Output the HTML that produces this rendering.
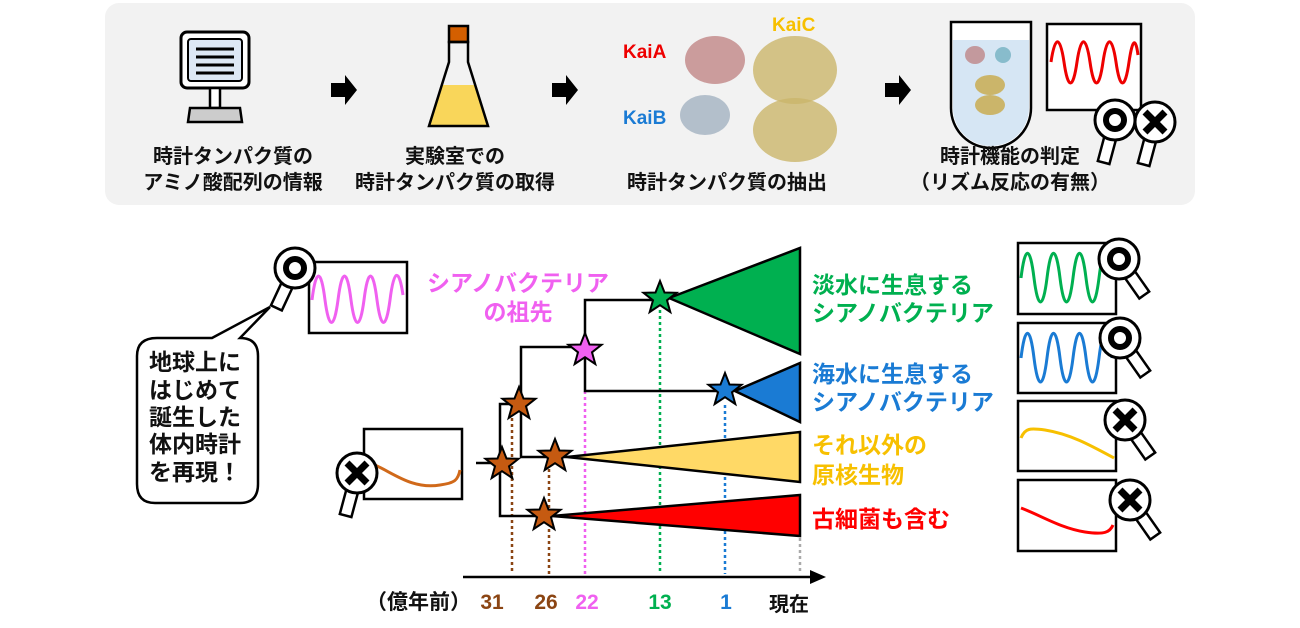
<!DOCTYPE html>
<html><head><meta charset="utf-8"><style>
body{margin:0;background:#fff;}
svg{display:block;}
text{font-family:"Liberation Sans","Noto Sans CJK JP",sans-serif;font-weight:bold;}
</style></head><body>
<svg width="1300" height="628" viewBox="0 0 1300 628" xmlns="http://www.w3.org/2000/svg">
<defs>
<g id="magO">
 <rect x="-6" y="14" width="12" height="30" fill="#fff" stroke="#000" stroke-width="2.5" transform="rotate(-35)"/>
 <circle r="20" fill="#fff" stroke="#000" stroke-width="3"/>
 <circle r="9" fill="none" stroke="#000" stroke-width="6"/>
</g>
<g id="magOL">
 <rect x="-6" y="14" width="12" height="30" fill="#fff" stroke="#000" stroke-width="2.5" transform="rotate(25)"/>
 <circle r="20" fill="#fff" stroke="#000" stroke-width="3"/>
 <circle r="9" fill="none" stroke="#000" stroke-width="6"/>
</g>
<g id="magX">
 <rect x="-6" y="14" width="12" height="30" fill="#fff" stroke="#000" stroke-width="2.5" transform="rotate(-35)"/>
 <circle r="20" fill="#fff" stroke="#000" stroke-width="3"/>
 <path d="M-10,-10 L10,10 M10,-10 L-10,10" stroke="#000" stroke-width="7"/>
</g>
<g id="magXs">
 <rect x="-6" y="14" width="12" height="30" fill="#fff" stroke="#000" stroke-width="2.5" transform="rotate(15)"/>
 <circle r="20" fill="#fff" stroke="#000" stroke-width="3"/>
 <path d="M-10,-10 L10,10 M10,-10 L-10,10" stroke="#000" stroke-width="7"/>
</g>
<g id="magOs">
 <rect x="-6" y="14" width="12" height="30" fill="#fff" stroke="#000" stroke-width="2.5" transform="rotate(15)"/>
 <circle r="20" fill="#fff" stroke="#000" stroke-width="3"/>
 <circle r="9" fill="none" stroke="#000" stroke-width="6"/>
</g>
<path id="star" d="M0,-17 L4.5,-5.5 L16.5,-5.2 L7,2.3 L10.3,14 L0,7.2 L-10.3,14 L-7,2.3 L-16.5,-5.2 L-4.5,-5.5 Z" stroke="#000" stroke-width="2"/>
</defs>

<rect x="105" y="3" width="1090" height="202" rx="14" fill="#f2f2f2"/>
<rect x="181" y="32" width="68" height="56" rx="6" fill="#fff" stroke="#000" stroke-width="3"/>
<rect x="188" y="39" width="54" height="42" rx="3" fill="#dde8f5" stroke="#000" stroke-width="2"/>
<g stroke="#000" stroke-width="3"><line x1="196" y1="49" x2="234" y2="49"/><line x1="196" y1="57" x2="234" y2="57"/><line x1="196" y1="65" x2="234" y2="65"/><line x1="196" y1="73" x2="234" y2="73"/></g>
<rect x="210" y="88" width="10" height="20" fill="#fff" stroke="#000" stroke-width="2.5"/>
<path d="M190,108 L240,108 L242,122 L188,122 Z" fill="#ccc" stroke="#000" stroke-width="2.5"/>
<rect x="449" y="26" width="19" height="16" fill="#d45f00" stroke="#000" stroke-width="2.5"/>
<path d="M443,85 L474,85 L487,125 L430,125 Z" fill="#f9d65a"/>
<path d="M449,42 L468,42 L468,62 L488,126 L429,126 L449,62 Z" fill="none" stroke="#000" stroke-width="2.5"/>
<g fill="#000">
<path d="M331,83 L345,83 L345,75 L357,90 L345,105 L345,97 L331,97 Z"/>
<path d="M552,83 L566,83 L566,75 L578,90 L566,105 L566,97 L552,97 Z"/>
<path d="M885,83 L899,83 L899,75 L911,90 L899,105 L899,97 L885,97 Z"/>
</g>
<text x="623" y="58" font-size="19" fill="#e00">KaiA</text>
<text x="623" y="124" font-size="19" fill="#1a7bd4">KaiB</text>
<text x="772" y="31" font-size="19" fill="#f7c000">KaiC</text>
<ellipse cx="715" cy="60" rx="30" ry="24" fill="#b77" opacity="0.7"/>
<ellipse cx="705" cy="115" rx="25" ry="20" fill="#9ab" opacity="0.7"/>
<ellipse cx="795" cy="70" rx="42" ry="34" fill="#cbb56a" opacity="0.8"/>
<ellipse cx="795" cy="130" rx="42" ry="32" fill="#cbb56a" opacity="0.8"/>
<path d="M951,22 L1031,22 L1031,108 A40,40 0 0 1 951,108 Z" fill="#fff" stroke="#000" stroke-width="2.5"/>
<path d="M953,40 L1029,40 L1029,108 A38,38 0 0 1 953,108 Z" fill="#d6e6f4"/>
<ellipse cx="975" cy="55" rx="10" ry="9" fill="#b77" opacity="0.7"/>
<ellipse cx="1003" cy="55" rx="8" ry="8" fill="#6ab" opacity="0.7"/>
<ellipse cx="990" cy="85" rx="15" ry="10" fill="#cbb56a"/>
<ellipse cx="990" cy="105" rx="15" ry="10" fill="#cbb56a"/>
<rect x="1047" y="24" width="94" height="86" fill="#fff" stroke="#000" stroke-width="2.5"/>
<path d="M1051,62 C1055,35 1060,35 1064,62 C1068,90 1073,90 1077,62 C1081,35 1086,35 1090,62 C1094,90 1099,90 1103,62 C1107,35 1112,35 1116,62 C1120,90 1125,90 1129,62 C1133,35 1136,40 1138,55" fill="none" stroke="#e00" stroke-width="3"/>
<use href="#magOs" x="1115" y="120"/>
<use href="#magXs" x="1155" y="122"/>
<g font-size="20" text-anchor="middle" fill="#111">
<text x="233" y="163">時計タンパク質の</text>
<text x="233" y="189">アミノ酸配列の情報</text>
<text x="455" y="163">実験室での</text>
<text x="455" y="189">時計タンパク質の取得</text>
<text x="727" y="189">時計タンパク質の抽出</text>
<text x="1010" y="163">時計機能の判定</text>
<text x="1010" y="189">（リズム反応の有無）</text>
</g>

<path d="M157,338 L212,338 L270,307 L240,338 Q258,338 258,356 L258,484 Q258,503 240,503 L155,503 Q137,503 137,484 L137,356 Q137,338 157,338 Z" fill="#fff" stroke="#000" stroke-width="2.5"/>
<g font-size="23" fill="#111">
<text x="149" y="370">地球上に</text>
<text x="149" y="398">はじめて</text>
<text x="149" y="425">誕生した</text>
<text x="149" y="452">体内時計</text>
<text x="149" y="480">を再現！</text>
</g>
<rect x="309" y="262" width="98" height="71" fill="#fff" stroke="#000" stroke-width="2.5"/>
<path d="M312,300 C316,268 321,268 325,300 C329,330 334,330 338,300 C342,268 347,268 351,300 C355,330 360,330 364,300 C368,268 373,268 377,300 C381,330 386,330 390,300 C394,268 399,268 403,295" fill="none" stroke="#f060f0" stroke-width="3"/>
<use href="#magOL" x="295" y="268"/>
<rect x="364" y="429" width="98" height="70" fill="#fff" stroke="#000" stroke-width="2.5"/>
<path d="M370,463 C390,470 410,490 440,485 C455,483 458,480 460,470" fill="none" stroke="#d0691a" stroke-width="3"/>
<use href="#magXs" x="357" y="473"/>

<g stroke-width="2.5" stroke-dasharray="3,3" fill="none">
<line x1="512" y1="418" x2="512" y2="574" stroke="#8b4513"/>
<line x1="549" y1="463" x2="549" y2="574" stroke="#8b4513"/>
<line x1="585" y1="391" x2="585" y2="574" stroke="#f060f0"/>
<line x1="660" y1="310" x2="660" y2="574" stroke="#00b050"/>
<line x1="725" y1="405" x2="725" y2="574" stroke="#1a7bd4"/>
<line x1="800" y1="538" x2="800" y2="574" stroke="#aaa"/>
</g>
<path d="M669,298 L800,248 L800,354 Z" fill="#00b050" stroke="#000" stroke-width="2.5"/>
<path d="M735,391 L800,363 L800,422 Z" fill="#1a7bd4" stroke="#000" stroke-width="2.5"/>
<path d="M567,457 L800,432 L800,482 Z" fill="#ffd966" stroke="#000" stroke-width="2.5"/>
<path d="M552,516 L800,495 L800,536 Z" fill="#f00" stroke="#000" stroke-width="2.5"/>
<g stroke="#000" stroke-width="2.5" fill="none">
<path d="M476,463 L500,463"/>
<path d="M519,404 L500,404 L500,516 L552,516"/>
<path d="M585,347 L521,347 L521,457 L567,457"/>
<path d="M660,300 L585,300 L585,391 L725,391"/>
</g>
<use href="#star" x="660" y="298" fill="#00b050"/>
<use href="#star" x="725" y="390" fill="#1a7bd4"/>
<use href="#star" x="585" y="350" fill="#f060f0"/>
<use href="#star" x="519" y="404" fill="#c55a11"/>
<use href="#star" x="555" y="456" fill="#c55a11"/>
<use href="#star" x="502" y="464" fill="#c55a11"/>
<use href="#star" x="544" y="515" fill="#c55a11"/>
<line x1="463" y1="577" x2="812" y2="577" stroke="#000" stroke-width="2.5"/>
<path d="M810,570 L826,577 L810,584 Z" fill="#000"/>
<g font-size="21">
<text x="366" y="609" fill="#111">（億年前）</text>
<text x="492" y="609" fill="#8b4513" text-anchor="middle">31</text>
<text x="546" y="609" fill="#8b4513" text-anchor="middle">26</text>
<text x="587" y="609" fill="#f060f0" text-anchor="middle">22</text>
<text x="660" y="609" fill="#00b050" text-anchor="middle">13</text>
<text x="726" y="609" fill="#1a7bd4" text-anchor="middle">1</text>
<text x="769" y="611" fill="#111" font-size="20">現在</text>
</g>
<g font-size="23">
<text x="518" y="291" fill="#f060f0" text-anchor="middle">シアノバクテリア</text>
<text x="518" y="320" fill="#f060f0" text-anchor="middle">の祖先</text>
<text x="812" y="293" fill="#00b050">淡水に生息する</text>
<text x="812" y="321" fill="#00b050">シアノバクテリア</text>
<text x="812" y="382" fill="#1a7bd4">海水に生息する</text>
<text x="812" y="410" fill="#1a7bd4">シアノバクテリア</text>
<text x="812" y="453" fill="#f7c000">それ以外の</text>
<text x="812" y="483" fill="#f7c000">原核生物</text>
<text x="812" y="527" fill="#f00">古細菌も含む</text>
</g>
<g fill="#fff" stroke="#000" stroke-width="2.5">
<rect x="1018" y="243" width="98" height="71"/>
<rect x="1018" y="323" width="98" height="70"/>
<rect x="1018" y="401" width="98" height="70"/>
<rect x="1018" y="480" width="98" height="71"/>
</g>
<path d="M1021,278 C1025,245 1030,245 1034,278 C1038,310 1043,310 1047,278 C1051,245 1056,245 1060,278 C1064,310 1069,310 1073,278 C1077,245 1082,245 1086,278 C1090,310 1095,310 1099,278 C1103,245 1108,245 1112,278" fill="none" stroke="#00b050" stroke-width="3"/>
<path d="M1021,358 C1025,325 1030,325 1034,358 C1038,390 1043,390 1047,358 C1051,325 1056,325 1060,358 C1064,390 1069,390 1073,358 C1077,325 1082,325 1086,358 C1090,390 1095,390 1099,358 C1103,325 1108,325 1112,358" fill="none" stroke="#1a7bd4" stroke-width="3"/>
<path d="M1021,438 C1025,428 1030,428 1045,430 C1070,434 1090,445 1114,458" fill="none" stroke="#f7c000" stroke-width="3"/>
<path d="M1021,508 C1040,515 1060,528 1085,532 C1105,535 1110,532 1113,525" fill="none" stroke="#f00" stroke-width="3"/>
<use href="#magO" x="1119" y="259"/>
<use href="#magO" x="1120" y="338"/>
<use href="#magX" x="1125" y="420"/>
<use href="#magX" x="1130" y="500"/>
</svg>
</body></html>
